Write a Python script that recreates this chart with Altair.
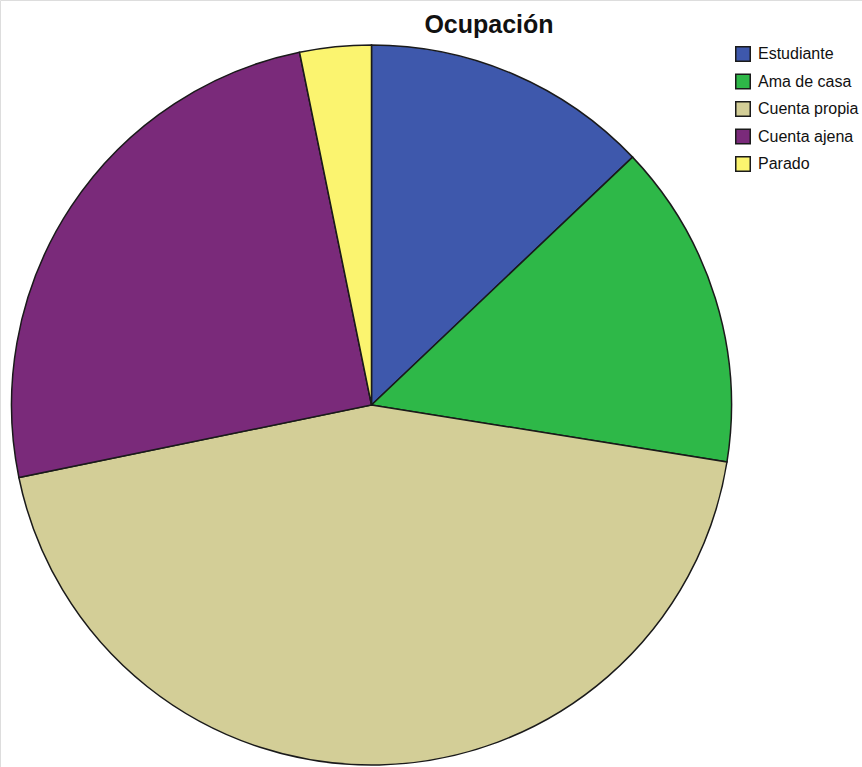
import altair as alt
import pandas as pd

# Ocupación: share of respondents by occupation (percent)
categorias = ["Estudiante", "Ama de casa", "Cuenta propia", "Cuenta ajena", "Parado"]
porcentajes = [12.9, 14.6, 44.2, 25.0, 3.2]
colores = ["#3E58AC", "#2EB848", "#D3CE97", "#7A2A7A", "#FBF46F"]
titulo = "Ocupación"

df = pd.DataFrame({
    "ocupacion": categorias,
    "porcentaje": porcentajes,
    "orden": list(range(len(categorias))),
})

FONT = "Liberation Sans"

pie = alt.Chart(df).mark_arc(
    outerRadius=360,
    stroke="#1a1a1a",
    strokeWidth=1.5,
).encode(
    theta=alt.Theta("porcentaje:Q", stack=True),
    order=alt.Order("orden:Q"),
    color=alt.Color(
        "ocupacion:N",
        scale=alt.Scale(domain=categorias, range=colores),
        sort=categorias,
        legend=alt.Legend(
            title=None,
            orient="none",
            legendX=735,
            legendY=46,
            padding=0,
            symbolType="square",
            symbolSize=210,
            symbolStrokeColor="#1a1a1a",
            symbolStrokeWidth=1.5,
            symbolOpacity=1,
            labelFont=FONT,
            labelFontSize=16,
            labelColor="#111111",
            labelOffset=7,
            rowPadding=5.5,
            labelLimit=200,
        ),
    ),
    x=alt.value(371.5),
    y=alt.value(405),
)

title_df = pd.DataFrame({"t": [titulo]})
title = alt.Chart(title_df).mark_text(
    font=FONT,
    fontSize=25,
    fontWeight="bold",
    color="#111111",
    align="center",
    baseline="alphabetic",
).encode(
    text="t:N",
    x=alt.value(489),
    y=alt.value(33),
)

chart = alt.layer(pie, title).properties(
    width=862,
    height=767,
    padding=0,
    autosize=alt.AutoSizeParams(type="none"),
).configure_view(stroke=None).configure(background="white")

chart.save("out.html", embed_options={"renderer": "svg", "actions": False})
